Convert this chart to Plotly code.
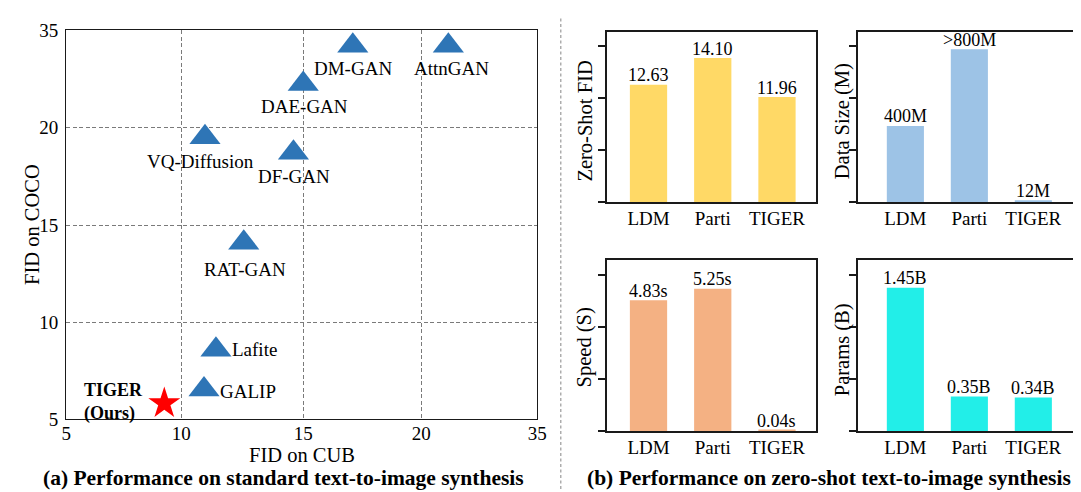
import numpy as np
import plotly.graph_objects as go

W, H = 1081, 492
FONT = "Liberation Serif"

# ---------------- (a) scatter data ----------------
methods = ["DM-GAN", "AttnGAN", "DAE-GAN", "VQ-Diffusion", "DF-GAN", "RAT-GAN", "Lafite", "GALIP"]
fid_cub = [17.1, 23.5, 15.0, 10.97, 14.6, 12.56, 11.42, 10.93]
fid_coco = [32.6, 32.6, 26.7, 19.5, 18.7, 14.1, 8.6, 6.55]
ours_label = "<b>TIGER</b><br><b>(Ours)</b>"
ours_cub = [9.26]
ours_coco = [5.83]
cub_ticks = [5, 10, 15, 20, 35]
coco_ticks = [5, 10, 15, 20, 35]

# ---------------- (b) bar data ----------------
models = ["LDM", "Parti", "TIGER"]
zs_fid = [12.63, 14.10, 11.96]
zs_fid_labels = ["12.63", "14.10", "11.96"]
data_size = [400, 800, 12]
data_size_labels = ["400M", ">800M", "12M"]
speed = [4.83, 5.25, 0.04]
speed_labels = ["4.83s", "5.25s", "0.04s"]
params = [1.45, 0.35, 0.34]
params_labels = ["1.45B", "0.35B", "0.34B"]


# ---------------- layout helpers (px -> paper fraction) ----------------
def fx(p):
    return p / W


def fy(p):
    return 1 - p / H


# broken-axis tick positions (axis units)
CUB_POS = [0, 116.7, 240.3, 360.0, 477.7]
COCO_POS = [0, 101.0, 203.0, 305.0, 406.6]

# label placement (xanchor, xshift, yshift)
label_style = {
    "DM-GAN": ("center", 0.4, -22.5),
    "AttnGAN": ("center", 3.1, -22.5),
    "DAE-GAN": ("center", 1.4, -22.5),
    "VQ-Diffusion": ("center", -4.6, -23.9),
    "DF-GAN": ("center", 0.3, -23.8),
    "RAT-GAN": ("center", 1.4, -27.0),
    "Lafite": ("left", 14, 0.0),
    "GALIP": ("left", 14, -2.0),
}

sx = np.interp(fid_cub, cub_ticks, CUB_POS)
sy = np.interp(fid_coco, coco_ticks, COCO_POS)
ox = np.interp(ours_cub, cub_ticks, CUB_POS)
oy = np.interp(ours_coco, coco_ticks, COCO_POS)

fig = go.Figure()

fig.add_trace(go.Scatter(
    x=sx, y=sy, mode="markers",
    marker=dict(symbol="triangle-up", size=27, color="#2E75B6", line=dict(width=0)),
    cliponaxis=False, showlegend=False, xaxis="x", yaxis="y",
))
fig.add_trace(go.Scatter(
    x=ox, y=oy, mode="markers",
    marker=dict(symbol="star", size=24, color="#FF0000", line=dict(width=0)),
    cliponaxis=False, showlegend=False, xaxis="x", yaxis="y",
))

annotations = []
for name, xv, yv in zip(methods, sx, sy):
    xa, xs, ys = label_style[name]
    annotations.append(dict(
        x=xv, y=yv, xref="x", yref="y", text=name, showarrow=False,
        xanchor=xa, yanchor="middle", xshift=xs, yshift=ys,
        font=dict(family=FONT, size=19, color="black"),
    ))
annotations.append(dict(x=fx(70.4), y=fy(400.8), xref="paper", yref="paper",
                        text=ours_label, showarrow=False, xanchor="left", yanchor="middle",
                        align="left", font=dict(family=FONT, size=18, color="black")))


# axis titles and captions
def txt(x, y, s, size, angle=0):
    return dict(x=fx(x), y=fy(y), xref="paper", yref="paper", text=s, showarrow=False,
                xanchor="center", yanchor="middle", textangle=angle,
                font=dict(family=FONT, size=size, color="black"))


annotations += [
    txt(292.9, 457.0, "FID on CUB", 20.5),
    txt(19.5, 216.0, "FID on COCO", 20.5, -90),
    txt(273.8, 481.0, "<b>(a) Performance on standard text-to-image synthesis</b>", 21.5),
    txt(827.6, 481.0, "<b>(b) Performance on zero-shot text-to-image synthesis</b>", 21.5),
    txt(580.0, 107.2, "Zero-Shot FID", 20.5, -90),
    txt(841.5, 108.0, "Data Size (M)", 20.5, -90),
    txt(580.0, 344.2, "Speed (S)", 20.5, -90),
    txt(842.0, 346.7, "Params (B)", 20.5, -90),
]

axis_font = dict(family=FONT, size=19, color="black")
scatter_common = dict(
    showgrid=True, gridcolor="#7a7a7a", gridwidth=1, griddash="4px,2.5px",
    showline=True, mirror=True, linecolor="#1a1a1a", linewidth=1.3,
    ticks="", zeroline=False, tickfont=axis_font,
)

layout = dict(
    width=W, height=H, margin=dict(l=0, r=0, t=0, b=0),
    paper_bgcolor="white", plot_bgcolor="white", showlegend=False,
    font=dict(family=FONT, color="black"),
    xaxis=dict(domain=[fx(54), fx(531.7)], range=[0, CUB_POS[-1]], tickvals=CUB_POS,
               ticktext=[str(t) for t in cub_ticks], anchor="y", ticklabelstandoff=-3,
               **scatter_common),
    yaxis=dict(domain=[fy(419.3), fy(12.7)], range=[0, COCO_POS[-1]], tickvals=COCO_POS,
               ticktext=[str(t) for t in coco_ticks], anchor="x", ticklabelstandoff=3,
               **scatter_common),
)

# ---------------- bar panels ----------------
TICK_FRAC = np.array([0.0, 0.3055, 0.611, 0.9165])
panels = [
    # values, labels, color, x-domain px, y-domain px, x-range, y-range
    (zs_fid, zs_fid_labels, "#FFD966", (602.1, 814.8), (192.7, 14.3), (-0.65, 2.615), (6.15, 15.55)),
    (data_size, data_size_labels, "#9DC3E6", (856.6, 1076.2), (192.7, 14.3), (-0.745, 2.64), (0, 892)),
    (speed, speed_labels, "#F4B183", (602.1, 814.8), (431.7, 253.3), (-0.65, 2.615), (0, 6.295)),
    (params, params_labels, "#22EEE8", (856.6, 1076.2), (431.7, 253.3), (-0.745, 2.64), (0, 1.724)),
]

for i, (vals, labs, col, xd, yd, xr, yr) in enumerate(panels):
    k = i + 2
    xa, ya = f"x{k}", f"y{k}"
    fig.add_trace(go.Bar(
        x=models, y=vals, width=0.58, marker=dict(color=col, line=dict(width=0)),
        xaxis=xa, yaxis=ya, showlegend=False,
    ))
    layout[f"xaxis{k}"] = dict(
        domain=[fx(xd[0]), fx(xd[1])], range=list(xr), anchor=ya,
        showline=True, mirror=True, linecolor="#1a1a1a", linewidth=1.5,
        ticks="", showgrid=False, zeroline=False, tickfont=axis_font,
        ticklabelstandoff=-2, type="category",
    )
    tv = yr[0] + (yr[1] - yr[0]) * TICK_FRAC
    layout[f"yaxis{k}"] = dict(
        domain=[fy(yd[0]), fy(yd[1])], range=list(yr), anchor=xa,
        showline=True, mirror=True, linecolor="#1a1a1a", linewidth=1.5,
        ticks="outside", ticklen=7, tickwidth=1.5, tickcolor="#1a1a1a",
        tickvals=list(tv), showticklabels=False, showgrid=False, zeroline=False,
    )
    for m, v, lab in zip(models, vals, labs):
        annotations.append(dict(
            x=m, y=v, xref=xa, yref=ya, text=lab, showarrow=False,
            xanchor="center", yanchor="bottom", yshift=-2.6,
            font=dict(family=FONT, size=18, color="black"),
        ))

layout["annotations"] = annotations
layout["shapes"] = [dict(type="line", xref="paper", yref="paper",
                         x0=fx(555.5), x1=fx(555.5), y0=0, y1=1,
                         line=dict(color="#9a9a9a", width=1.2, dash="3px,2.5px"))]

fig.update_layout(**layout)
fig.write_html("out.html")
